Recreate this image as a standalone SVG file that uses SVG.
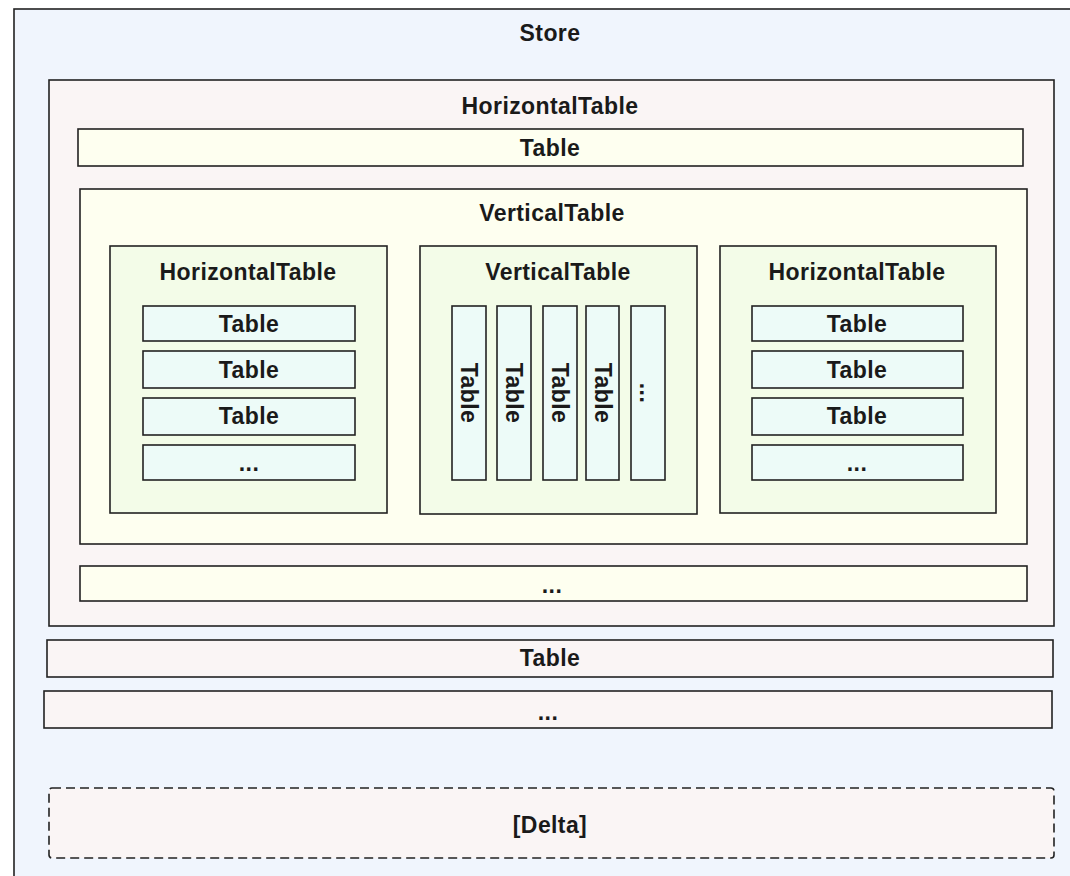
<svg xmlns="http://www.w3.org/2000/svg" width="1070" height="876" viewBox="0 0 1070 876">
<style>
rect{stroke:#222;stroke-width:1.6}
rect.bg{stroke:none;fill:#ffffff}
.store{fill:#f0f5fd}
.pink{fill:#faf5f5}
.yel{fill:#fefff0}
.grn{fill:#f3fce8}
.cyan{fill:#edfbf8}
.dash{stroke-dasharray:9 5}
text{font-family:"Liberation Sans",Arial,sans-serif;font-weight:bold;font-size:23px;letter-spacing:0.4px;fill:#1a1a1a;text-anchor:middle;dominant-baseline:central}
</style>
<rect class="bg" width="1070" height="876"/>
<g id="store">
<rect class="store" x="14" y="9" width="1080" height="880"/>
<text x="550" y="33">Store</text>
</g>
<g id="htable-outer">
<rect class="pink" x="49" y="80" width="1005" height="546"/>
<text x="550" y="106">HorizontalTable</text>
</g>
<g id="table-top">
<rect class="yel" x="78" y="129" width="945" height="37"/>
<text x="550" y="148">Table</text>
</g>
<g id="vtable-outer">
<rect class="yel" x="80" y="189" width="947" height="355"/>
<text x="552" y="213">VerticalTable</text>
</g>
<g id="htable-left">
<rect class="grn" x="110" y="246" width="277" height="267"/>
<text x="248" y="272">HorizontalTable</text>
<rect class="cyan" x="143" y="306" width="212" height="35"/>
<text x="249" y="324">Table</text>
<rect class="cyan" x="143" y="351" width="212" height="37"/>
<text x="249" y="370">Table</text>
<rect class="cyan" x="143" y="398" width="212" height="37"/>
<text x="249" y="416">Table</text>
<rect class="cyan" x="143" y="445" width="212" height="35"/>
<text x="249" y="463">...</text>
</g>
<g id="vtable-mid">
<rect class="grn" x="420" y="246" width="277" height="268"/>
<text x="558" y="272">VerticalTable</text>
<rect class="cyan" x="452" y="306" width="34" height="174"/>
<text transform="translate(469 393) rotate(90)">Table</text>
<rect class="cyan" x="497" y="306" width="34" height="174"/>
<text transform="translate(514 393) rotate(90)">Table</text>
<rect class="cyan" x="543" y="306" width="34" height="174"/>
<text transform="translate(560 393) rotate(90)">Table</text>
<rect class="cyan" x="586" y="306" width="33" height="174"/>
<text transform="translate(602.5 393) rotate(90)">Table</text>
<rect class="cyan" x="631" y="306" width="34" height="174"/>
<text transform="translate(648 393) rotate(90)">...</text>
</g>
<g id="htable-right">
<rect class="grn" x="720" y="246" width="276" height="267"/>
<text x="857" y="272">HorizontalTable</text>
<rect class="cyan" x="752" y="306" width="211" height="35"/>
<text x="857" y="324">Table</text>
<rect class="cyan" x="752" y="351" width="211" height="37"/>
<text x="857" y="370">Table</text>
<rect class="cyan" x="752" y="398" width="211" height="37"/>
<text x="857" y="416">Table</text>
<rect class="cyan" x="752" y="445" width="211" height="35"/>
<text x="857" y="463">...</text>
</g>
<g id="more-inner">
<rect class="yel" x="80" y="566" width="947" height="35"/>
<text x="552" y="585">...</text>
</g>
<g id="table-bottom">
<rect class="pink" x="47" y="640" width="1006" height="37"/>
<text x="550" y="658">Table</text>
</g>
<g id="more-bottom">
<rect class="pink" x="44" y="691" width="1008" height="37"/>
<text x="548" y="712">...</text>
</g>
<g id="delta">
<rect class="pink dash" x="49" y="788" width="1005" height="70" rx="3"/>
<text x="550" y="825">[Delta]</text>
</g>
<g id="connectors"></g>
</svg>
